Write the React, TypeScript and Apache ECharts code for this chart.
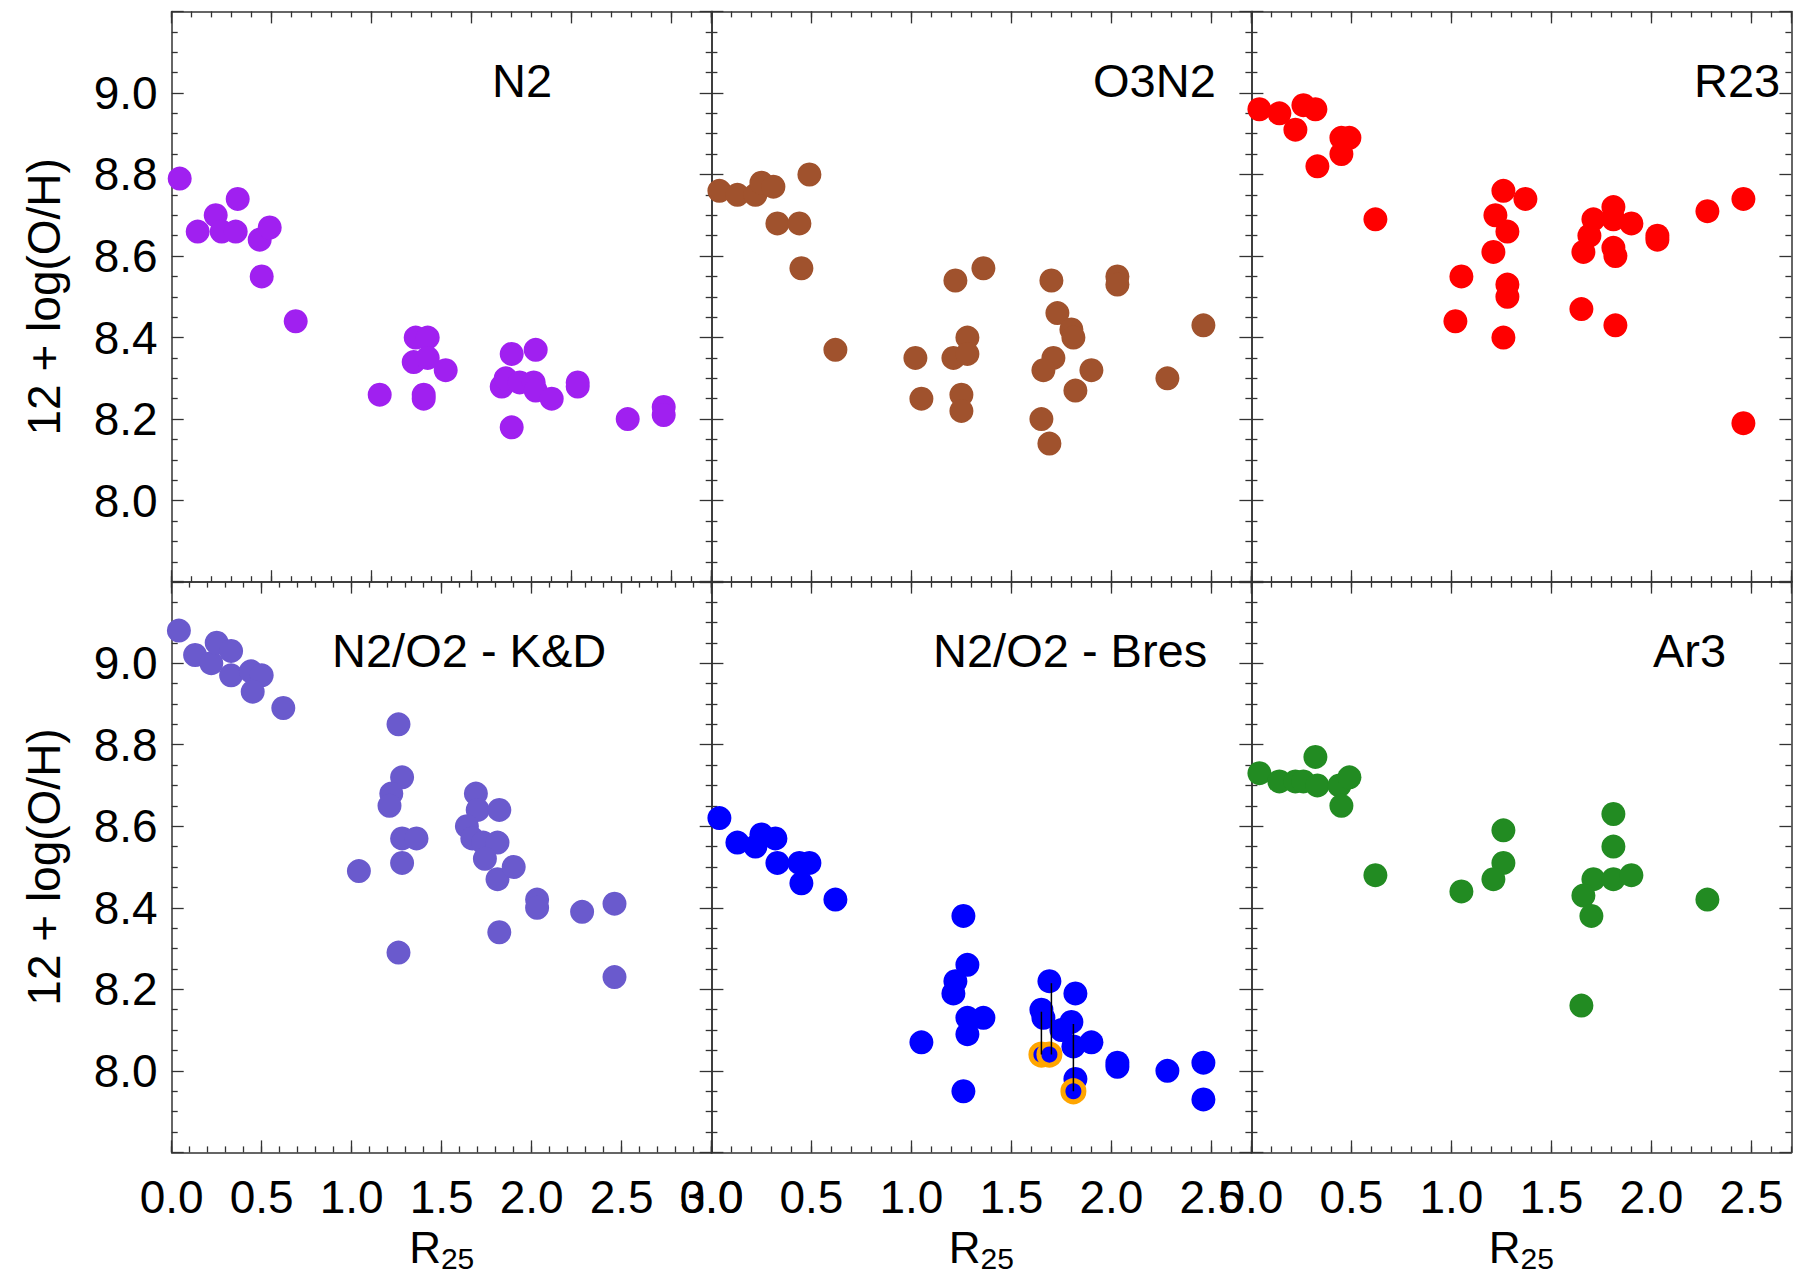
import React, { useEffect, useRef } from "react";
import * as echarts from "echarts";

// ---------------- data (R25 = x, 12+log(O/H) = y) ----------------
const n2R = [0.04, 0.13, 0.22, 0.25, 0.32, 0.33, 0.44, 0.49, 0.45, 0.62, 1.04, 1.22, 1.28, 1.21, 1.28, 1.37, 1.26, 1.26, 1.70, 1.82, 1.65, 1.67, 1.74, 1.81, 1.82, 1.90, 1.70, 2.03, 2.03, 2.28, 2.46, 2.46];
const n2OH = [8.79, 8.66, 8.70, 8.66, 8.66, 8.74, 8.64, 8.67, 8.55, 8.44, 8.26, 8.40, 8.40, 8.34, 8.35, 8.32, 8.26, 8.25, 8.36, 8.37, 8.28, 8.30, 8.29, 8.29, 8.27, 8.25, 8.18, 8.29, 8.28, 8.20, 8.23, 8.21];

const o3n2R = [0.04, 0.13, 0.22, 0.25, 0.31, 0.49, 0.33, 0.44, 0.45, 0.62, 1.02, 1.05, 1.22, 1.36, 1.28, 1.21, 1.28, 1.25, 1.25, 1.70, 1.73, 1.80, 1.81, 1.71, 1.66, 1.90, 1.82, 1.65, 1.69, 2.03, 2.03, 2.46, 2.28];
const o3n2OH = [8.76, 8.75, 8.75, 8.78, 8.77, 8.80, 8.68, 8.68, 8.57, 8.37, 8.35, 8.25, 8.54, 8.57, 8.40, 8.35, 8.36, 8.26, 8.22, 8.54, 8.46, 8.42, 8.40, 8.35, 8.32, 8.32, 8.27, 8.20, 8.14, 8.55, 8.53, 8.43, 8.30];

const r23R = [0.04, 0.14, 0.22, 0.26, 0.32, 0.33, 0.45, 0.49, 0.45, 0.62, 1.05, 1.02, 1.26, 1.37, 1.22, 1.28, 1.21, 1.28, 1.28, 1.26, 1.71, 1.81, 1.81, 1.90, 1.69, 1.66, 1.81, 1.82, 2.03, 2.03, 1.65, 1.82, 2.28, 2.46, 2.46];
const r23OH = [8.96, 8.95, 8.91, 8.97, 8.96, 8.82, 8.89, 8.89, 8.85, 8.69, 8.55, 8.44, 8.76, 8.74, 8.70, 8.66, 8.61, 8.53, 8.50, 8.40, 8.69, 8.72, 8.69, 8.68, 8.65, 8.61, 8.62, 8.60, 8.65, 8.64, 8.47, 8.43, 8.71, 8.74, 8.19];

const kdR = [0.04, 0.13, 0.22, 0.25, 0.33, 0.33, 0.44, 0.50, 0.45, 0.62, 1.26, 1.28, 1.22, 1.21, 1.28, 1.36, 1.28, 1.04, 1.26, 1.69, 1.70, 1.82, 1.64, 1.67, 1.73, 1.81, 1.74, 1.81, 1.90, 1.82, 2.03, 2.03, 2.28, 2.46, 2.46];
const kdOH = [9.08, 9.02, 9.00, 9.05, 9.03, 8.97, 8.98, 8.97, 8.93, 8.89, 8.85, 8.72, 8.68, 8.65, 8.57, 8.57, 8.51, 8.49, 8.29, 8.68, 8.64, 8.64, 8.60, 8.57, 8.56, 8.56, 8.52, 8.47, 8.50, 8.34, 8.42, 8.40, 8.39, 8.41, 8.23];

const bresR = [0.04, 0.13, 0.22, 0.25, 0.32, 0.33, 0.44, 0.49, 0.45, 0.62, 1.05, 1.26, 1.28, 1.22, 1.21, 1.28, 1.36, 1.28, 1.26, 1.69, 1.82, 1.65, 1.66, 1.80, 1.75, 1.81, 1.90, 2.03, 2.03, 2.28, 2.46, 2.46, 1.82];
const bresOH = [8.62, 8.56, 8.55, 8.58, 8.57, 8.51, 8.51, 8.51, 8.46, 8.42, 8.07, 8.38, 8.26, 8.22, 8.19, 8.13, 8.13, 8.09, 7.95, 8.22, 8.19, 8.15, 8.13, 8.12, 8.10, 8.06, 8.07, 8.02, 8.01, 8.00, 8.02, 7.93, 7.98];
// flagged points (orange rings) and their links to the adopted values
const bresFlagR = [1.65, 1.69, 1.81];
const bresFlagOH = [8.04, 8.04, 7.95];
const bresLinkR = [1.65, 1.70, 1.81];
const bresLinkLo = [8.04, 8.04, 7.95];
const bresLinkHi = [8.145, 8.215, 8.115];

const ar3R = [0.04, 0.14, 0.22, 0.26, 0.32, 0.33, 0.44, 0.49, 0.45, 0.62, 1.05, 1.26, 1.26, 1.21, 1.81, 1.81, 1.71, 1.81, 1.90, 1.66, 1.70, 1.65, 2.28];
const ar3OH = [8.73, 8.71, 8.71, 8.71, 8.77, 8.70, 8.70, 8.72, 8.65, 8.48, 8.44, 8.59, 8.51, 8.47, 8.63, 8.55, 8.47, 8.47, 8.48, 8.43, 8.38, 8.16, 8.42];

const panelTitles = ["N2", "O3N2", "R23", "N2/O2 - K&D", "N2/O2 - Bres", "Ar3"];
const panelR = [n2R, o3n2R, r23R, kdR, bresR, ar3R];
const panelOH = [n2OH, o3n2OH, r23OH, kdOH, bresOH, ar3OH];
const panelXMax = [2.7, 2.7, 2.7, 3.0, 2.7, 2.7];
const Y_MIN = 7.8;
const Y_MAX = 9.2;
const yAxisTitle = "12 + log(O/H)";

// ---------------- styles / layout ----------------
const COLORS = ["#A020F0", "#A0522D", "#FF0000", "#6A5ACD", "#0000FF", "#228B22"];
const FLAG_COLOR = "#FFA500";
const FRAME = "#333333";
const FONT = "'Liberation Sans', Arial, Helvetica, sans-serif";
const COL_LEFT = [171.7, 711.4, 1251.4];
const ROW_TOP = [11.4, 581.6];
const PANEL_W = 540;
const PANEL_H = 570.8;
const TITLE_POS = [
  [492, 80], [1093, 80], [1694, 80],
  [332, 650], [933, 650], [1653, 650],
];

function buildOption() {
  const grid: any[] = [];
  const xAxis: any[] = [];
  const yAxis: any[] = [];
  const series: any[] = [];
  const graphic: any[] = [];

  panelTitles.forEach((title, i) => {
    const row = Math.floor(i / 3);
    const col = i % 3;
    const xMax = panelXMax[i];
    grid.push({ left: COL_LEFT[col], top: ROW_TOP[row], width: PANEL_W, height: PANEL_H, containLabel: false });

    const mkX = (position: string, major: boolean, labels: boolean) => ({
      type: "value",
      gridIndex: i,
      position,
      min: 0,
      max: xMax,
      interval: major ? 0.5 : 0.1,
      axisLine: { show: major, onZero: false, lineStyle: { color: FRAME, width: 1.5 } },
      axisTick: { show: true, inside: true, length: major ? 12 : 6, lineStyle: { color: FRAME, width: 1.3 } },
      axisLabel: labels
        ? {
            show: true,
            fontSize: 46,
            fontFamily: FONT,
            color: "#000",
            margin: 22,
            showMinLabel: true,
            showMaxLabel: xMax === 3.0,
            formatter: (v: number) => v.toFixed(1),
          }
        : { show: false },
      splitLine: { show: false },
      ...(labels
        ? {
            name: "{r|R}{s|25}",
            nameLocation: "middle",
            nameGap: 69,
            nameTextStyle: {
              rich: {
                r: { fontSize: 44, lineHeight: 52, verticalAlign: "middle", color: "#000", fontFamily: FONT },
                s: { fontSize: 30, lineHeight: 20, verticalAlign: "bottom", color: "#000", fontFamily: FONT },
              },
            },
          }
        : {}),
    });
    xAxis.push(mkX("bottom", true, row === 1), mkX("bottom", false, false), mkX("top", true, false), mkX("top", false, false));

    const mkY = (position: string, labels: boolean) => ({
      type: "value",
      gridIndex: i,
      position,
      min: Y_MIN,
      max: Y_MAX,
      interval: 0.2,
      axisLine: { show: true, onZero: false, lineStyle: { color: FRAME, width: 1.5 } },
      axisTick: { show: true, inside: true, length: 12, lineStyle: { color: FRAME, width: 1.3 } },
      minorTick: { show: true, splitNumber: 4, length: 6, lineStyle: { color: FRAME, width: 1.3 } },
      axisLabel: labels
        ? {
            show: true,
            fontSize: 46,
            fontFamily: FONT,
            color: "#000",
            margin: 14,
            showMinLabel: false,
            showMaxLabel: false,
            formatter: (v: number) => v.toFixed(1),
          }
        : { show: false },
      splitLine: { show: false },
      minorSplitLine: { show: false },
      ...(labels
        ? {
            name: yAxisTitle,
            nameLocation: "middle",
            nameGap: 105,
            nameRotate: 90,
            nameTextStyle: { fontSize: 46, color: "#000", fontFamily: FONT },
          }
        : {}),
    });
    yAxis.push(mkY("left", col === 0), mkY("right", false));

    series.push({
      type: "scatter",
      xAxisIndex: i * 4,
      yAxisIndex: i * 2,
      symbol: "circle",
      symbolSize: 24,
      itemStyle: { color: COLORS[i], opacity: 1 },
      data: panelR[i].map((r, k) => [r, panelOH[i][k]]),
    });

    if (title === "N2/O2 - Bres") {
      series.push({
        type: "scatter",
        xAxisIndex: i * 4,
        yAxisIndex: i * 2,
        symbol: "circle",
        symbolSize: 21,
        itemStyle: { color: COLORS[i], borderColor: FLAG_COLOR, borderWidth: 5, opacity: 1 },
        data: bresFlagR.map((r, k) => [r, bresFlagOH[k]]),
      });
      bresLinkR.forEach((r, k) => {
        series.push({
          type: "line",
          xAxisIndex: i * 4,
          yAxisIndex: i * 2,
          symbol: "none",
          lineStyle: { color: "#000", width: 1.5 },
          data: [
            [r, bresLinkLo[k]],
            [r, bresLinkHi[k]],
          ],
        });
      });
    }

    graphic.push({
      type: "text",
      x: TITLE_POS[i][0],
      y: TITLE_POS[i][1],
      style: {
        text: title,
        fontSize: 47,
        fontFamily: FONT,
        fill: "#000",
        align: "left",
        textAlign: "left",
        verticalAlign: "middle",
        textVerticalAlign: "middle",
      },
    });
  });

  return {
    animation: false,
    backgroundColor: "#ffffff",
    textStyle: { fontFamily: FONT },
    grid,
    xAxis,
    yAxis,
    series,
    graphic,
  };
}

export default function App() {
  const ref = useRef<HTMLDivElement>(null);
  useEffect(() => {
    if (!ref.current) return;
    const chart = echarts.init(ref.current, undefined, { renderer: "svg" });
    chart.setOption(buildOption() as any);
    return () => chart.dispose();
  }, []);
  return (
    <div
      ref={ref}
      style={{ position: "absolute", left: 0, top: 0, width: 1795, height: 1286, background: "#fff" }}
    />
  );
}
